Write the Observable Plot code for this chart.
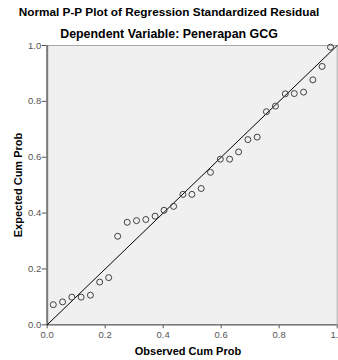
<!DOCTYPE html>
<html>
<head>
<meta charset="utf-8">
<script src="https://cdn.jsdelivr.net/npm/d3@7"></script>
<script src="https://cdn.jsdelivr.net/npm/@observablehq/plot@0.6"></script>
<style>
  html, body { margin: 0; padding: 0; background: #fff; }
  #wrap { position: relative; width: 338px; height: 360px; font-family: "Liberation Sans", Arial, sans-serif; }
  .t { position: absolute; font-weight: bold; color: #000; white-space: nowrap; }
  #title { left: 0; width: 338px; top: 5px; text-align: center; font-size: 11.8px; }
  #subtitle { left: 0; width: 338px; top: 27px; text-align: center; font-size: 12.4px; }
  #xlab { left: 46px; width: 284px; top: 345px; text-align: center; font-size: 11px; }
  #ylab { left: 18px; top: 185px; font-size: 11px; transform: translate(-50%, -50%) rotate(-90deg); }
  svg { position: absolute; left: 0; top: 0; }
</style>
</head>
<body>
<div id="wrap">
  <div class="t" id="title">Normal P-P Plot of Regression Standardized Residual</div>
  <div class="t" id="subtitle">Dependent Variable: Penerapan GCG</div>
  <div class="t" id="xlab">Observed Cum Prob</div>
  <div class="t" id="ylab">Expected Cum Prob</div>
</div>
<script>
const observed = [0.021, 0.053, 0.085, 0.117, 0.149, 0.181, 0.212, 0.243, 0.276, 0.308,
  0.340, 0.372, 0.403, 0.436, 0.468, 0.499, 0.531, 0.563, 0.597, 0.629,
  0.660, 0.692, 0.724, 0.756, 0.787, 0.821, 0.852, 0.884, 0.916, 0.948, 0.977];
const expected = [0.072, 0.082, 0.099, 0.099, 0.106, 0.153, 0.169, 0.317, 0.367, 0.373,
  0.377, 0.389, 0.410, 0.424, 0.467, 0.467, 0.488, 0.546, 0.593, 0.593,
  0.619, 0.663, 0.672, 0.763, 0.783, 0.827, 0.828, 0.833, 0.877, 0.925, 0.994];
const tickValues = [0, 0.2, 0.4, 0.6, 0.8, 1.0];
const refLine = [0, 1];

const points = observed.map((x, i) => ({x, y: expected[i]}));

const chart = Plot.plot({
  width: 338,
  height: 360,
  marginLeft: 46.7,
  marginRight: 1.3,
  marginTop: 45,
  marginBottom: 35.7,
  style: {fontFamily: "Liberation Sans, Arial, sans-serif", fontSize: "9.5px", background: "transparent"},
  x: {domain: [0, 1]},
  y: {domain: [0, 1]},
  marks: [
    Plot.frame({fill: "#f0f0f0", stroke: "#a8a8a8"}),
    Plot.axisX({ticks: tickValues, tickFormat: d3.format(".1f"), tickSize: 4, tickPadding: 2, stroke: "#555", color: "#555", label: null}),
    Plot.axisY({ticks: tickValues, tickFormat: d3.format(".1f"), tickSize: 5, tickPadding: 1, stroke: "#555", color: "#555", label: null}),
    Plot.ruleX([0], {stroke: "#7a7a7a", strokeWidth: 2}),
    Plot.ruleY([0], {stroke: "#7a7a7a", strokeWidth: 1.5}),
    Plot.line(refLine, {x: d => d, y: d => d, stroke: "#000", strokeWidth: 1}),
    Plot.dot(points, {x: "x", y: "y", r: 3, stroke: "#404040", strokeWidth: 1, fill: "none"})
  ]
});
document.getElementById("wrap").prepend(chart);
</script>
</body>
</html>
